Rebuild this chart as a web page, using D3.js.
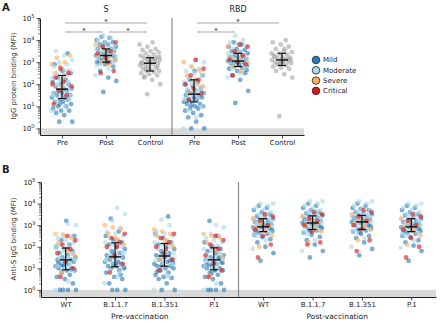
<!DOCTYPE html>
<html>
<head>
<meta charset="utf-8">
<script src="https://cdn.jsdelivr.net/npm/d3@7"></script>
<style>
  body { margin: 0; background: #fff; }
  text { font-family: "DejaVu Sans", sans-serif; fill: #222; }
</style>
</head>
<body>
<svg width="440" height="323"></svg>
<script>
// severity groups, same order in every data array below: [mild, moderate, severe, critical]
const severities = ["Mild", "Moderate", "Severe", "Critical"];
const sevColors = ["#2c7bb6", "#abd9e9", "#fdae61", "#d7191c"];

// panel A categories
const aAntigens = ["S", "RBD"];
const aLabels = ["Pre", "Post", "Control", "Pre", "Post", "Control"];

// panel A values, log10 MFI
const sPre = [
  [0.3,0.3,0.6,0.7,0.8,0.8,0.9,1.0,1.0,1.1,1.2,1.2,1.3,1.3,1.4,1.4,1.5,1.5,1.6,1.6,1.7,1.7,1.8,1.8,1.9,2.0,2.0,2.1,2.2,2.3,2.5,2.6,2.9,3.4,1.1],
  [0.8,1.0,1.2,1.3,1.4,1.5,1.6,1.7,1.8,1.9,2.0,2.1,2.2,2.3,2.4,2.5,2.6,2.7,2.8,2.9,3.0,3.1,3.3,3.5,1.9,2.2,1.6,2.4,2.0,1.5],
  [2.3,2.5,2.6,2.8,2.9,3.0,3.2,3.3,1.9],
  [1.1,1.5,1.7,1.9,2.1,2.3,2.5,2.7,2.0]
];
const sPost = [
  [1.65,2.15,2.3,2.6,2.8,2.9,3.0,3.0,3.1,3.1,3.2,3.2,3.3,3.3,3.3,3.4,3.4,3.5,3.5,3.6,3.6,3.7,3.7,3.8,3.8,3.9,3.9,4.0,4.1,4.15,3.25,3.45,2.95,3.55,3.35],
  [2.4,2.7,2.9,3.0,3.1,3.2,3.2,3.3,3.3,3.4,3.4,3.5,3.5,3.6,3.6,3.7,3.8,3.9,4.0,4.1,4.2,3.15,3.25,3.45,3.55,3.05,2.85,3.65],
  [3.0,3.1,3.2,3.3,3.4,3.6,3.8,2.9],
  [2.5,2.6,3.2,3.4,3.5,3.7,3.9,3.0]
];
const sControl = [1.55,2.0,2.2,2.3,2.4,2.45,2.5,2.55,2.6,2.6,2.65,2.7,2.75,2.8,2.85,2.9,2.9,2.95,3.0,3.0,3.05,3.1,3.1,3.15,3.2,3.2,3.25,3.3,3.35,3.4,3.45,3.5,3.55,3.6,3.7,3.8,3.9,2.35,2.8,3.0,2.95,3.15,2.7,3.25];
const rbdPre = [
  [0.0,0.0,0.3,0.5,0.6,0.7,0.8,0.9,0.9,1.0,1.0,1.1,1.1,1.2,1.2,1.3,1.3,1.4,1.4,1.5,1.5,1.6,1.6,1.7,1.7,1.8,1.9,2.0,2.1,2.2,2.4,2.6,1.25,1.45,1.05],
  [0.0,0.5,0.8,1.0,1.2,1.3,1.4,1.5,1.6,1.7,1.8,1.9,2.0,2.1,2.2,2.3,2.4,2.5,2.6,2.7,2.8,3.0,3.1,1.55,1.75,2.05,1.35,1.65],
  [1.6,1.9,2.2,2.4,2.6,2.8,3.0,2.0],
  [1.3,1.6,1.8,2.0,2.2,2.4,2.7,3.1]
];
const rbdPost = [
  [1.15,1.7,2.2,2.4,2.5,2.6,2.7,2.75,2.8,2.85,2.9,2.95,3.0,3.0,3.05,3.1,3.1,3.15,3.2,3.25,3.3,3.35,3.4,3.45,3.5,3.55,3.6,3.7,3.8,3.9,2.65,2.9,3.2,3.0,3.3],
  [2.3,2.5,2.7,2.8,2.9,3.0,3.05,3.1,3.15,3.2,3.25,3.3,3.35,3.4,3.5,3.6,3.7,3.8,3.9,4.0,4.2,2.95,3.05,3.15,2.85,3.45,3.25,2.6],
  [2.8,3.0,3.1,3.2,3.3,3.5,3.7,2.6],
  [2.4,2.9,3.0,3.1,3.3,3.5,3.7,3.8]
];
const rbdControl = [0.55,2.3,2.45,2.6,2.7,2.75,2.8,2.85,2.9,2.95,3.0,3.0,3.05,3.1,3.1,3.15,3.2,3.2,3.25,3.3,3.35,3.4,3.45,3.5,3.6,3.7,3.8,3.9,4.0,2.9,3.1,3.0,3.25,3.15,2.95,3.4,3.6];

// panel A medians and quartiles (log10)
const aMedian = [1.78, 3.3, 2.95, 1.55, 3.05, 3.1];
const aQ1 = [1.35, 3.0, 2.6, 1.2, 2.8, 2.85];
const aQ3 = [2.4, 3.6, 3.2, 2.2, 3.4, 3.4];
// significance brackets: [from, to, level]
const aBrackets = [[0, 2, 1], [0, 1, 0], [1, 2, 0], [3, 5, 1], [3, 4, 0]];

// panel B categories
const bVariants = ["WT", "B.1.1.7", "B.1.351", "P.1", "WT", "B.1.1.7", "B.1.351", "P.1"];
const bPhases = ["Pre-vaccination", "Post-vaccination"];

// panel B values, log10 MFI
const preWT = [
  [0,0,0,0,0.3,0.5,0.6,0.7,0.8,0.9,0.9,1.0,1.0,1.1,1.1,1.2,1.2,1.3,1.3,1.4,1.4,1.5,1.5,1.6,1.7,1.8,1.9,2.0,2.1,2.3,2.5,3.2,1.25,0.95,1.15],
  [0,0.4,0.7,0.9,1.0,1.1,1.2,1.3,1.4,1.5,1.6,1.7,1.8,1.9,2.0,2.1,2.2,2.3,2.4,2.5,2.6,3.0,3.05,1.45,1.65,1.85,2.05,1.35],
  [0.8,1.6,1.9,2.2,2.4,2.5,2.6,1.8],
  [0.6,1.0,1.3,1.7,1.9,2.1,2.3,2.5]
];
const preB117 = [
  [0,0,0,0.3,0.5,0.6,0.8,0.9,1.0,1.0,1.1,1.1,1.2,1.2,1.3,1.3,1.4,1.5,1.5,1.6,1.7,1.8,1.9,2.0,2.1,2.2,2.3,2.5,2.7,3.3,1.05,1.25,1.45,0.7,1.65],
  [0.3,0.6,0.9,1.1,1.3,1.4,1.5,1.6,1.7,1.8,1.9,2.0,2.1,2.2,2.3,2.4,2.5,2.6,2.7,2.9,3.2,3.5,3.8,1.55,1.75,2.15,1.35,0.8],
  [1.5,2.1,2.4,2.6,2.8,2.9,3.0,2.3],
  [0.8,1.2,1.6,2.0,2.2,2.4,2.6,2.0]
];
const preB1351 = [
  [0,0,0.3,0.5,0.55,0.6,0.7,0.8,0.9,1.0,1.0,1.1,1.1,1.2,1.2,1.3,1.4,1.4,1.5,1.6,1.7,1.8,1.9,2.0,2.1,2.2,2.4,2.6,3.4,1.05,1.25,1.55,0.85,1.35,1.65],
  [0,0.7,1.0,1.2,1.3,1.4,1.5,1.6,1.7,1.8,1.9,2.0,2.1,2.2,2.3,2.4,2.5,2.6,2.7,3.0,3.25,1.45,1.75,1.95,2.15,1.15,2.55,0.6],
  [1.4,2.0,2.3,2.5,2.6,2.7,2.8,2.2],
  [0.9,1.4,1.7,2.0,2.2,2.4,2.6,1.9]
];
const preP1 = [
  [0,0,0,0,0.3,0.5,0.6,0.7,0.8,0.9,0.9,1.0,1.0,1.1,1.1,1.2,1.2,1.3,1.3,1.4,1.5,1.5,1.6,1.7,1.8,1.9,2.0,2.2,2.5,3.2,1.25,0.95,1.15,1.45,0.75],
  [0,0.3,0.6,0.9,1.0,1.1,1.2,1.3,1.4,1.5,1.6,1.7,1.8,1.9,2.0,2.1,2.2,2.3,2.4,2.5,2.6,2.9,3.0,1.45,1.65,1.85,1.35,2.05],
  [0.7,1.5,1.9,2.2,2.4,2.5,2.6,1.8],
  [0.6,0.9,1.2,1.6,1.9,2.1,2.3,2.5]
];
const postWT = [
  [1.35,1.7,2.0,2.2,2.35,2.45,2.55,2.6,2.65,2.7,2.75,2.8,2.85,2.9,2.9,2.95,3.0,3.05,3.1,3.15,3.2,3.25,3.3,3.35,3.4,3.5,3.6,3.7,3.8,3.9,2.8,3.0,2.7,3.1,2.95],
  [1.9,2.3,2.5,2.65,2.75,2.85,2.9,2.95,3.0,3.05,3.1,3.15,3.2,3.3,3.4,3.5,3.6,3.7,3.8,3.9,4.0,4.0,2.8,3.0,3.25,3.45,2.6,3.55],
  [2.0,2.5,2.8,2.9,3.0,3.1,3.3,2.7],
  [1.5,2.1,2.5,2.8,3.0,3.2,3.4,3.5]
];
const postB117 = [
  [1.5,1.8,2.1,2.3,2.45,2.55,2.65,2.75,2.8,2.85,2.9,2.95,3.0,3.05,3.1,3.1,3.15,3.2,3.25,3.3,3.35,3.4,3.45,3.5,3.55,3.6,3.7,3.8,3.9,4.0,2.9,3.1,3.2,3.0,2.7],
  [1.8,2.3,2.6,2.75,2.85,2.95,3.0,3.05,3.1,3.15,3.2,3.25,3.3,3.4,3.5,3.6,3.7,3.8,3.9,4.0,4.1,4.1,2.9,3.1,3.35,3.55,2.7,3.65],
  [2.2,2.7,2.9,3.0,3.1,3.2,3.4,2.8],
  [2.1,2.2,2.7,3.0,3.2,3.3,3.5,3.6]
];
const postB1351 = [
  [1.6,1.9,2.2,2.4,2.5,2.6,2.7,2.75,2.8,2.85,2.9,3.0,3.05,3.1,3.15,3.2,3.2,3.25,3.3,3.35,3.4,3.45,3.5,3.55,3.6,3.7,3.75,3.8,3.9,4.0,2.95,3.1,3.3,3.0,2.65],
  [2.0,2.4,2.65,2.8,2.9,3.0,3.05,3.1,3.15,3.2,3.25,3.3,3.35,3.4,3.5,3.6,3.7,3.8,3.9,4.0,4.1,4.1,2.95,3.15,3.45,3.65,2.75,3.55],
  [2.3,2.8,3.0,3.1,3.2,3.3,3.5,2.9],
  [1.8,2.3,2.8,3.0,3.2,3.4,3.6,3.7]
];
const postP1 = [
  [1.35,1.8,2.05,2.2,2.3,2.45,2.5,2.6,2.65,2.7,2.75,2.8,2.85,2.9,2.9,2.95,3.0,3.05,3.1,3.15,3.2,3.25,3.3,3.35,3.45,3.5,3.6,3.7,3.8,3.9,2.8,3.0,2.7,3.1,2.95],
  [1.95,2.3,2.5,2.65,2.75,2.85,2.9,2.95,3.0,3.05,3.1,3.15,3.2,3.3,3.4,3.5,3.6,3.7,3.8,3.9,4.0,4.0,2.8,3.0,3.25,3.45,2.6,3.55],
  [2.1,2.5,2.8,2.9,3.0,3.1,3.3,2.7],
  [1.5,2.0,2.4,2.8,3.0,3.2,3.4,3.5]
];

// panel B medians and quartiles (log10)
const bMedian = [1.39, 1.53, 1.57, 1.39, 2.92, 3.1, 3.15, 2.92];
const bQ1 = [0.93, 1.07, 1.1, 0.93, 2.7, 2.8, 2.8, 2.7];
const bQ3 = [1.94, 2.18, 2.15, 1.95, 3.3, 3.43, 3.45, 3.3];

const yTicks = [1, 10, 100, 1e3, 1e4, 1e5];

const svg = d3.select("svg");

// spread points sideways like a strip plot (deterministic)
function jitter(i) {
  return ((i * 0.618034 + 0.37) % 1 - 0.5) * 21;
}

function flatten(groups) {
  let out = [];
  groups.forEach((vals, s) => vals.forEach(v => out.push({ v: v, color: sevColors[s] })));
  return out;
}

function drawPanel(g, x, y, groups, med, q1, q3, labels) {
  let [x0, x1] = x.range();
  let [yb, yt] = y.range();

  // grey band below the detection floor
  g.append("rect")
    .attr("x", x0).attr("y", y(1))
    .attr("width", x1 - x0).attr("height", yb - y(1))
    .attr("fill", "#d9d9d9");

  // y axis, major + minor ticks
  let minor = [];
  for (let e = -1; e < 5; e++) for (let m = 2; m < 10; m++) {
    let v = m * 10 ** e;
    if (v >= y.domain()[0] && v <= 1e5) minor.push(v);
  }
  g.append("g")
    .attr("transform", `translate(${x0},0)`)
    .call(d3.axisLeft(y).tickValues(minor).tickSize(2).tickFormat(""))
    .call(a => a.select(".domain").remove())
    .selectAll("line").attr("stroke", "#333").attr("stroke-width", 0.6);

  let ya = g.append("g")
    .attr("transform", `translate(${x0},0)`)
    .call(d3.axisLeft(y).tickValues(yTicks).tickSize(3.5).tickPadding(2).tickSizeOuter(0));
  ya.select(".domain").attr("stroke", "#222").attr("stroke-width", 1);
  ya.selectAll("line").attr("stroke", "#222").attr("stroke-width", 0.8);
  ya.selectAll("text")
    .attr("font-size", 7)
    .each(function(d) {
      let t = d3.select(this);
      t.text("10");
      t.append("tspan").attr("dy", -3).attr("font-size", 5).text(Math.round(Math.log10(d)));
    });

  // x axis
  let xa = g.append("g")
    .attr("transform", `translate(0,${yb})`)
    .call(d3.axisBottom(x).tickSize(3.5).tickPadding(2).tickSizeOuter(0)
      .tickFormat(i => labels[i]));
  xa.select(".domain").attr("stroke", "#222").attr("stroke-width", 1);
  xa.selectAll("line").attr("stroke", "#222").attr("stroke-width", 0.8);
  xa.selectAll("text").attr("font-size", 7);

  // points
  groups.forEach((grp, i) => {
    let pts = Array.isArray(grp[0]) ? flatten(grp) : grp.map(v => ({ v: v, color: "#a6a6a6" }));
    g.append("g").selectAll("circle")
      .data(pts)
      .join("circle")
      .attr("cx", (d, j) => x(i) + jitter(j))
      .attr("cy", d => y(10 ** d.v))
      .attr("r", 2.4)
      .attr("fill", d => d.color)
      .attr("fill-opacity", 0.62);
  });

  // median + interquartile bars
  let eb = g.append("g").attr("stroke", "#111");
  med.forEach((m, i) => {
    let cx = x(i);
    eb.append("line").attr("x1", cx).attr("x2", cx)
      .attr("y1", y(10 ** q1[i])).attr("y2", y(10 ** q3[i])).attr("stroke-width", 1.2);
    [q1[i], q3[i]].forEach(q => eb.append("line")
      .attr("x1", cx - 4).attr("x2", cx + 4)
      .attr("y1", y(10 ** q)).attr("y2", y(10 ** q)).attr("stroke-width", 1.2));
    eb.append("line").attr("x1", cx - 6).attr("x2", cx + 6)
      .attr("y1", y(10 ** m)).attr("y2", y(10 ** m)).attr("stroke-width", 1.4);
  });
}

// ---------- panel A ----------
const xA = d3.scalePoint().domain(d3.range(6)).range([40, 304]).padding(0.5);
const yA = d3.scaleLog().domain([10 ** -0.3, 1e5]).range([135, 18]);
const gA = svg.append("g");

drawPanel(gA, xA, yA, [sPre, sPost, sControl, rbdPre, rbdPost, rbdControl], aMedian, aQ1, aQ3, aLabels);

gA.append("line")
  .attr("x1", (xA(2) + xA(3)) / 2).attr("x2", (xA(2) + xA(3)) / 2)
  .attr("y1", 18).attr("y2", 135)
  .attr("stroke", "#8a8a8a").attr("stroke-width", 1.2);

aAntigens.forEach((a, k) => {
  gA.append("text").attr("x", xA(k * 3 + 1)).attr("y", 12)
    .attr("text-anchor", "middle").attr("font-size", 8).text(a);
});

aBrackets.forEach(([p, q, lvl]) => {
  let ly = lvl ? 23 : 32;
  gA.append("line")
    .attr("x1", xA(p) + 3).attr("x2", xA(q) - 3)
    .attr("y1", ly).attr("y2", ly)
    .attr("stroke", "#a8a8a8").attr("stroke-width", 1.2);
  gA.append("text")
    .attr("x", (xA(p) + xA(q)) / 2).attr("y", ly + 0.5)
    .attr("text-anchor", "middle").attr("font-size", 7).text("*");
});

gA.append("text").attr("transform", "translate(16,76) rotate(-90)")
  .attr("text-anchor", "middle").attr("font-size", 7).text("IgG protein binding (MFI)");
svg.append("text").attr("x", 2).attr("y", 11).attr("font-size", 10)
  .attr("font-weight", "bold").text("A");

// legend
const leg = svg.append("g");
severities.forEach((s, i) => {
  let ly = 60 + i * 10.3;
  leg.append("circle").attr("cx", 316).attr("cy", ly).attr("r", 3.8)
    .attr("fill", sevColors[i]).attr("stroke", "#222").attr("stroke-width", 0.8);
  leg.append("text").attr("x", 323).attr("y", ly).attr("dy", "0.35em")
    .attr("font-size", 7).text(s);
});

// ---------- panel B ----------
const xB = d3.scalePoint().domain(d3.range(8)).range([41, 436]).padding(0.5);
const yB = d3.scaleLog().domain([10 ** -0.33, 1e5]).range([297, 182]);
const gB = svg.append("g");

drawPanel(gB, xB, yB, [preWT, preB117, preB1351, preP1, postWT, postB117, postB1351, postP1], bMedian, bQ1, bQ3, bVariants);

gB.append("line")
  .attr("x1", (xB(3) + xB(4)) / 2).attr("x2", (xB(3) + xB(4)) / 2)
  .attr("y1", 182).attr("y2", 297)
  .attr("stroke", "#8a8a8a").attr("stroke-width", 1.2);

bPhases.forEach((p, k) => {
  gB.append("text").attr("x", (xB(k * 4) + xB(k * 4 + 3)) / 2).attr("y", 319)
    .attr("text-anchor", "middle").attr("font-size", 7.5).text(p);
});

gB.append("text").attr("transform", "translate(16,239) rotate(-90)")
  .attr("text-anchor", "middle").attr("font-size", 7).text("Anti-S IgG binding (MFI)");
svg.append("text").attr("x", 2).attr("y", 173).attr("font-size", 10)
  .attr("font-weight", "bold").text("B");
</script>
</body>
</html>
